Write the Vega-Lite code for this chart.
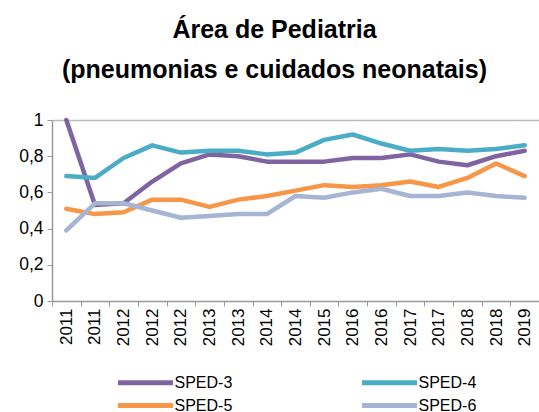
{
  "$schema": "https://vega.github.io/schema/vega-lite/v6.json",
  "width": 487,
  "height": 181,
  "autosize": {"type": "none"},
  "padding": {"left": 52, "top": 120, "right": 0, "bottom": 111},
  "background": "white",
  "title": {
    "text": ["Área de Pediatria", "(pneumonias e cuidados neonatais)"],
    "font": "Liberation Sans",
    "fontSize": 25,
    "fontWeight": "bold",
    "color": "#000000",
    "lineHeight": 40,
    "anchor": "middle",
    "dx": -21,
    "offset": 28
  },
  "config": {
    "view": {"stroke": null},
    "font": "Liberation Sans"
  },
  "data": {
    "values": [
      {"periodo": "2011a", "serie": "SPED-3", "valor": 1.0},
      {"periodo": "2011b", "serie": "SPED-3", "valor": 0.53},
      {"periodo": "2012a", "serie": "SPED-3", "valor": 0.54},
      {"periodo": "2012b", "serie": "SPED-3", "valor": 0.66},
      {"periodo": "2012c", "serie": "SPED-3", "valor": 0.76},
      {"periodo": "2013a", "serie": "SPED-3", "valor": 0.81},
      {"periodo": "2013b", "serie": "SPED-3", "valor": 0.80},
      {"periodo": "2014a", "serie": "SPED-3", "valor": 0.77},
      {"periodo": "2014b", "serie": "SPED-3", "valor": 0.77},
      {"periodo": "2015a", "serie": "SPED-3", "valor": 0.77},
      {"periodo": "2016a", "serie": "SPED-3", "valor": 0.79},
      {"periodo": "2016b", "serie": "SPED-3", "valor": 0.79},
      {"periodo": "2017a", "serie": "SPED-3", "valor": 0.81},
      {"periodo": "2017b", "serie": "SPED-3", "valor": 0.77},
      {"periodo": "2018a", "serie": "SPED-3", "valor": 0.75},
      {"periodo": "2018b", "serie": "SPED-3", "valor": 0.80},
      {"periodo": "2019a", "serie": "SPED-3", "valor": 0.83},
      {"periodo": "2011a", "serie": "SPED-4", "valor": 0.69},
      {"periodo": "2011b", "serie": "SPED-4", "valor": 0.68},
      {"periodo": "2012a", "serie": "SPED-4", "valor": 0.79},
      {"periodo": "2012b", "serie": "SPED-4", "valor": 0.86},
      {"periodo": "2012c", "serie": "SPED-4", "valor": 0.82},
      {"periodo": "2013a", "serie": "SPED-4", "valor": 0.83},
      {"periodo": "2013b", "serie": "SPED-4", "valor": 0.83},
      {"periodo": "2014a", "serie": "SPED-4", "valor": 0.81},
      {"periodo": "2014b", "serie": "SPED-4", "valor": 0.82},
      {"periodo": "2015a", "serie": "SPED-4", "valor": 0.89},
      {"periodo": "2016a", "serie": "SPED-4", "valor": 0.92},
      {"periodo": "2016b", "serie": "SPED-4", "valor": 0.87},
      {"periodo": "2017a", "serie": "SPED-4", "valor": 0.83},
      {"periodo": "2017b", "serie": "SPED-4", "valor": 0.84},
      {"periodo": "2018a", "serie": "SPED-4", "valor": 0.83},
      {"periodo": "2018b", "serie": "SPED-4", "valor": 0.84},
      {"periodo": "2019a", "serie": "SPED-4", "valor": 0.86},
      {"periodo": "2011a", "serie": "SPED-5", "valor": 0.51},
      {"periodo": "2011b", "serie": "SPED-5", "valor": 0.48},
      {"periodo": "2012a", "serie": "SPED-5", "valor": 0.49},
      {"periodo": "2012b", "serie": "SPED-5", "valor": 0.56},
      {"periodo": "2012c", "serie": "SPED-5", "valor": 0.56},
      {"periodo": "2013a", "serie": "SPED-5", "valor": 0.52},
      {"periodo": "2013b", "serie": "SPED-5", "valor": 0.56},
      {"periodo": "2014a", "serie": "SPED-5", "valor": 0.58},
      {"periodo": "2014b", "serie": "SPED-5", "valor": 0.61},
      {"periodo": "2015a", "serie": "SPED-5", "valor": 0.64},
      {"periodo": "2016a", "serie": "SPED-5", "valor": 0.63},
      {"periodo": "2016b", "serie": "SPED-5", "valor": 0.64},
      {"periodo": "2017a", "serie": "SPED-5", "valor": 0.66},
      {"periodo": "2017b", "serie": "SPED-5", "valor": 0.63},
      {"periodo": "2018a", "serie": "SPED-5", "valor": 0.68},
      {"periodo": "2018b", "serie": "SPED-5", "valor": 0.76},
      {"periodo": "2019a", "serie": "SPED-5", "valor": 0.69},
      {"periodo": "2011a", "serie": "SPED-6", "valor": 0.39},
      {"periodo": "2011b", "serie": "SPED-6", "valor": 0.54},
      {"periodo": "2012a", "serie": "SPED-6", "valor": 0.54},
      {"periodo": "2012b", "serie": "SPED-6", "valor": 0.50},
      {"periodo": "2012c", "serie": "SPED-6", "valor": 0.46},
      {"periodo": "2013a", "serie": "SPED-6", "valor": 0.47},
      {"periodo": "2013b", "serie": "SPED-6", "valor": 0.48},
      {"periodo": "2014a", "serie": "SPED-6", "valor": 0.48},
      {"periodo": "2014b", "serie": "SPED-6", "valor": 0.58},
      {"periodo": "2015a", "serie": "SPED-6", "valor": 0.57},
      {"periodo": "2016a", "serie": "SPED-6", "valor": 0.60},
      {"periodo": "2016b", "serie": "SPED-6", "valor": 0.62},
      {"periodo": "2017a", "serie": "SPED-6", "valor": 0.58},
      {"periodo": "2017b", "serie": "SPED-6", "valor": 0.58},
      {"periodo": "2018a", "serie": "SPED-6", "valor": 0.60},
      {"periodo": "2018b", "serie": "SPED-6", "valor": 0.58},
      {"periodo": "2019a", "serie": "SPED-6", "valor": 0.57}
    ]
  },
  "mark": {"type": "line", "strokeWidth": 4.5, "strokeJoin": "round", "strokeCap": "round"},
  "encoding": {
    "x": {
      "field": "periodo",
      "type": "ordinal",
      "sort": null,
      "scale": {"paddingInner": 0, "paddingOuter": 0},
      "axis": {
        "title": null,
        "labelExpr": "datum.value ? substring(datum.value, 0, 4) : ''",
        "labelAngle": -90,
        "labelAlign": "right",
        "labelBaseline": "middle",
        "labelFontSize": 17,
        "labelColor": "#000000",
        "labelPadding": 2,
        "tickBand": "extent",
        "tickSize": 5,
        "tickColor": "#999999",
        "domainColor": "#999999",
        "domainWidth": 1.5,
        "grid": false
      }
    },
    "y": {
      "field": "valor",
      "type": "quantitative",
      "scale": {"domain": [0, 1]},
      "axis": {
        "title": null,
        "values": [0, 0.2, 0.4, 0.6, 0.8, 1],
        "labelExpr": "replace(format(datum.value, '.1~f'), '.', ',')",
        "labelFontSize": 17.5,
        "labelColor": "#000000",
        "labelPadding": 4,
        "tickSize": 5,
        "tickColor": "#999999",
        "domainColor": "#999999",
        "domainWidth": 1.5,
        "grid": true,
        "gridColor": "#bbbbbb",
        "gridWidth": 1.5,
        "gridOpacity": {"condition": {"test": "datum.value === 1", "value": 1}, "value": 0}
      }
    },
    "color": {
      "field": "serie",
      "type": "nominal",
      "scale": {
        "domain": ["SPED-3", "SPED-4", "SPED-5", "SPED-6"],
        "range": ["#8064A2", "#4BACC6", "#F79646", "#A5B5D3"]
      },
      "legend": {
        "title": null,
        "orient": "none",
        "legendX": 81,
        "legendY": 250,
        "direction": "horizontal",
        "columns": 2,
        "columnPadding": 119,
        "rowPadding": -2,
        "symbolType": "M-2.75,0H2.75",
        "symbolSize": 400,
        "symbolStrokeWidth": 5,
        "labelFontSize": 16,
        "labelColor": "#000000",
        "labelOffset": 16.5
      }
    }
  }
}
